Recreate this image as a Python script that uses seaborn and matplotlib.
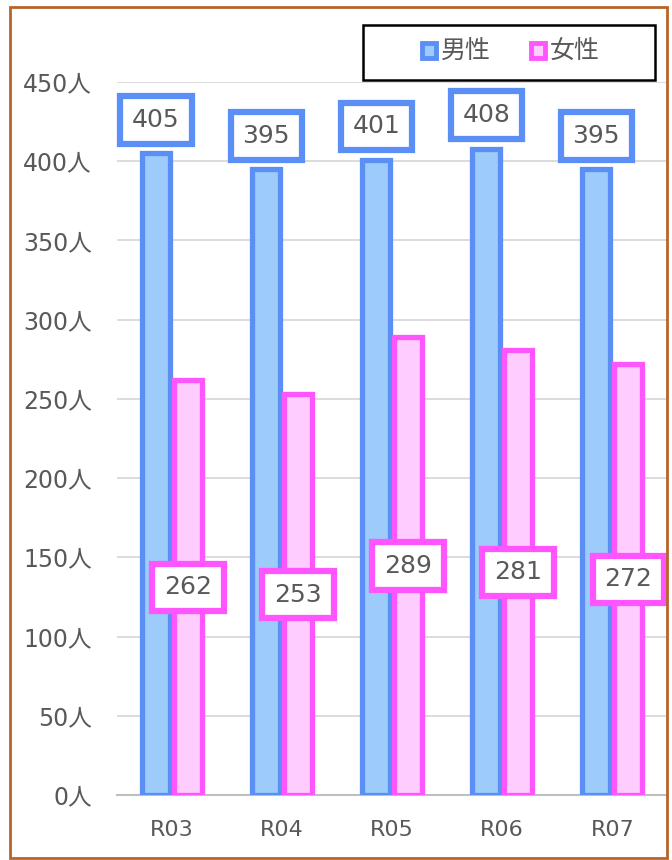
import pandas as pd
import matplotlib.pyplot as plt
import seaborn as sns
from matplotlib.patches import Patch, Rectangle
from matplotlib.ticker import FixedLocator

years = ["R03", "R04", "R05", "R06", "R07"]
male = [405, 395, 401, 408, 395]
female = [262, 253, 289, 281, 272]
series = ["男性", "女性"]
yticks = [0, 50, 100, 150, 200, 250, 300, 350, 400, 450]

edge = {"男性": "#5B8FF5", "女性": "#FF55FF"}
fill = {"男性": "#9DCBFA", "女性": "#FFCCFF"}
text_col = "#595959"

df = pd.DataFrame({
    "year": years * 2,
    "sex": [series[0]] * len(years) + [series[1]] * len(years),
    "count": male + female,
})

sns.set_style("white")
plt.rcParams['font.family'] = ['DejaVu Sans', 'Noto Sans CJK JP']

fig = plt.figure(figsize=(6.72, 8.6), dpi=100)
ax = fig.add_axes([0.174, 0.0756, 0.819, 0.8291])

sns.barplot(data=df, x="year", y="count", hue="sex", hue_order=series,
            palette=fill, saturation=1, width=0.58, gap=0.12, legend=False,
            ax=ax, err_kws={"linewidth": 0})

for cont, name in zip(ax.containers, series):
    for bar in cont:
        bar.set_edgecolor(edge[name])
        bar.set_linewidth(3.8)
        bar.set_zorder(3)

# data labels
for cont, name in zip(ax.containers, series):
    for bar in cont:
        h = bar.get_height()
        cx = bar.get_x() + bar.get_width() / 2
        y = h + 21 if name == "男性" else h / 2
        ax.text(cx, y, f"{int(h)}", ha="center", va="center", fontsize=18,
                color=text_col, zorder=5,
                bbox=dict(boxstyle="square,pad=0.47", facecolor="white",
                          edgecolor=edge[name], linewidth=4.5))

ax.set_ylim(0, 450)
ax.set_xlim(-0.5, 4.5)
ax.set_yticks(yticks)
ax.set_yticklabels([f"{v}人" for v in yticks])
ax.yaxis.grid(True, color="#D9D9D9", linewidth=1.3, zorder=0)
ax.set_axisbelow(True)
ax.set_xlabel("")
ax.set_ylabel("")

for s in ["top", "right", "left"]:
    ax.spines[s].set_visible(False)
ax.spines["bottom"].set_color("#BFBFBF")
ax.spines["bottom"].set_linewidth(1.5)

ax.tick_params(axis="y", length=0, labelsize=17, labelcolor=text_col, pad=18)
ax.tick_params(axis="x", which="major", length=0, labelsize=16,
               labelcolor=text_col, pad=18)
ax.xaxis.set_minor_locator(FixedLocator([-0.5, 0.5, 1.5, 2.5, 3.5, 4.5]))
ax.tick_params(axis="x", which="minor", length=8, width=1.5, color="#BFBFBF")

# legend with its own frame
fig.patches.append(Rectangle((363 / 672, 1 - 80 / 860), 292 / 672, 55 / 860,
                             transform=fig.transFigure, facecolor="white",
                             edgecolor="black", linewidth=1.8, zorder=10))
handles = [Patch(facecolor=fill[n], edgecolor=edge[n], linewidth=3.5, label=n)
           for n in series]
leg = fig.legend(handles=handles, loc="center", ncol=2, frameon=False,
                 bbox_to_anchor=(511 / 672, 1 - 52 / 860), fontsize=18,
                 handlelength=0.55, handleheight=0.55, handletextpad=0.2,
                 columnspacing=1.6)
leg.set_zorder(11)
for t in leg.get_texts():
    t.set_color(text_col)

# outer chart border
fig.patches.append(Rectangle((10 / 672, 2 / 860), 657 / 672, 851 / 860,
                             transform=fig.transFigure, facecolor="none",
                             edgecolor="#B5652B", linewidth=2, zorder=20))

fig.savefig("out.png", dpi=100)
